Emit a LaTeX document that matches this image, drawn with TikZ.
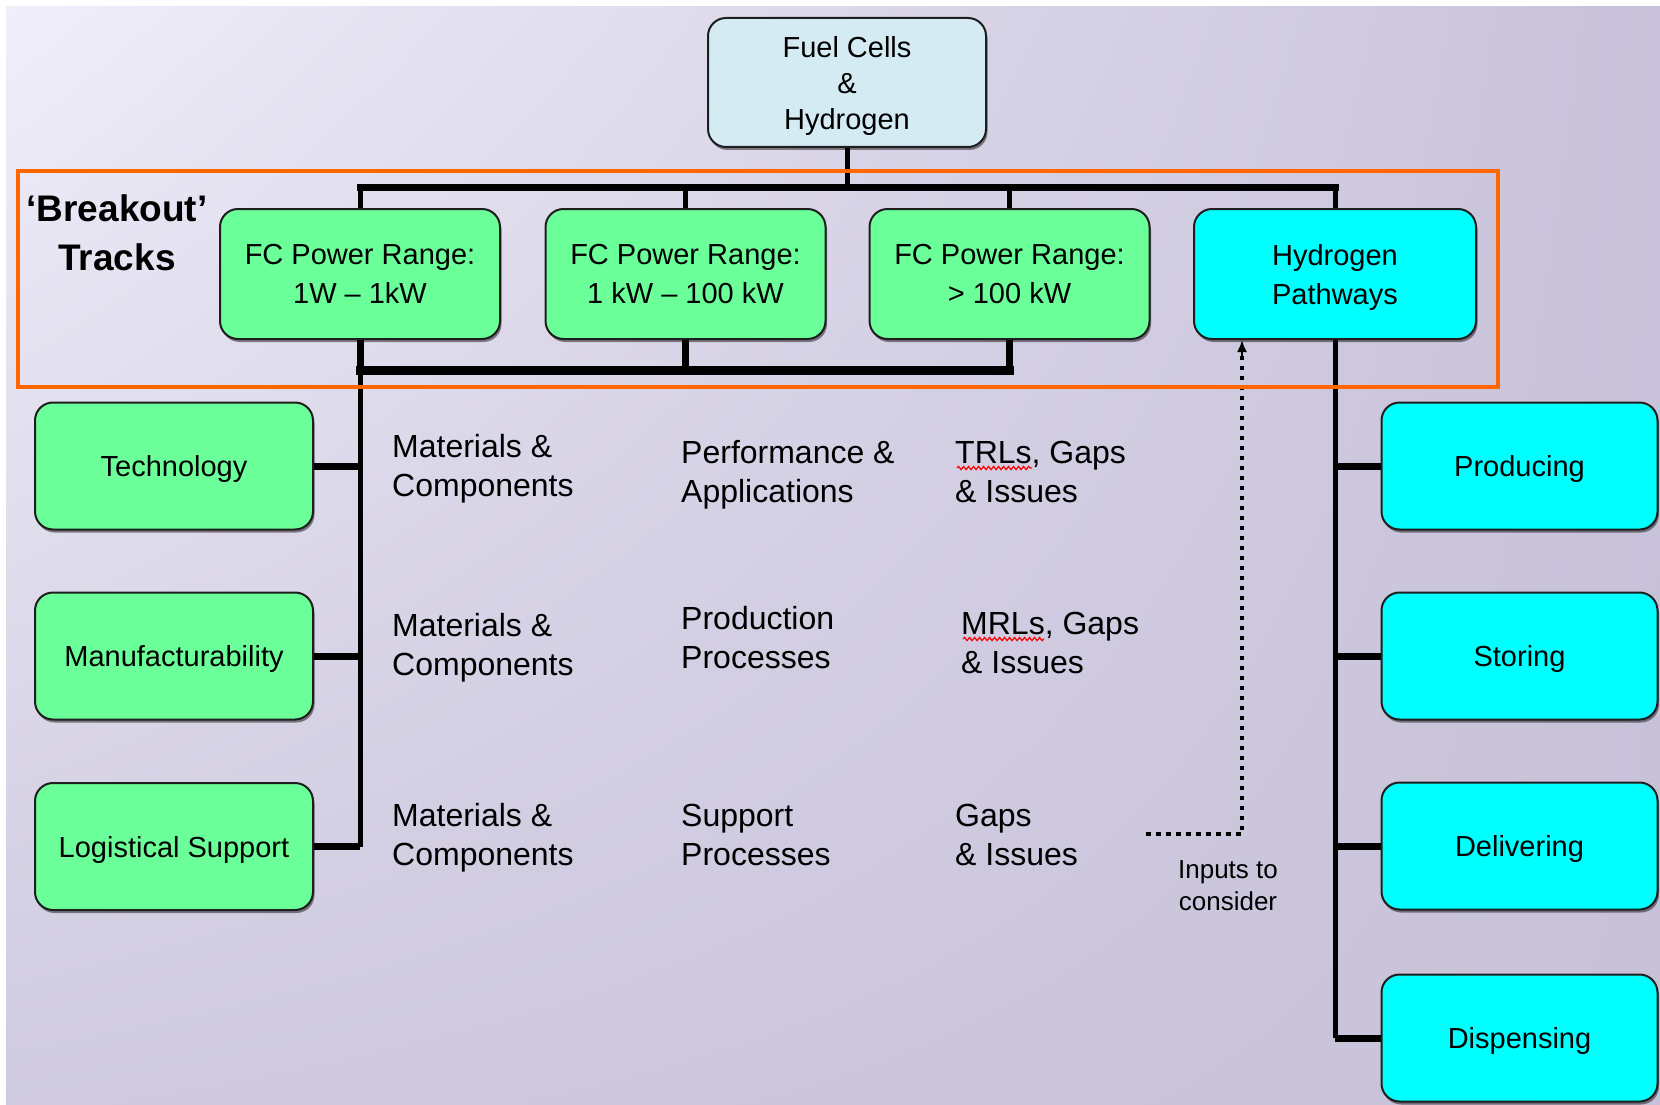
\documentclass[tikz,border=0pt]{standalone}
\usepackage{fontspec}
\setmainfont{Liberation Sans}
\usetikzlibrary{arrows.meta,shadows,shadings,decorations.pathmorphing}

\definecolor{boxgreen}{RGB}{106,255,152}
\definecolor{boxcyan}{RGB}{0,255,255}
\definecolor{topblue}{RGB}{213,235,243}
\definecolor{trackorange}{RGB}{255,102,0}
\definecolor{bgUL}{RGB}{239,238,249}
\definecolor{bgUR}{RGB}{200,194,218}
\definecolor{bgLL}{RGB}{207,202,223}
\definecolor{bgLR}{RGB}{200,194,217}
\definecolor{edge}{RGB}{30,30,30}

\pgfdeclarelayer{bg}
\pgfdeclarelayer{wires}
\pgfsetlayers{bg,wires,main}

\begin{document}
\begin{tikzpicture}[x=1pt,y=-1pt,
  box/.style={draw=edge, line width=2pt, rounded corners=18pt, inner sep=0pt,
    align=center, text depth=0pt, font=\fontsize{29}{39}\selectfont,
    drop shadow={shadow xshift=1.5pt, shadow yshift=-3pt, opacity=0.45, fill=black}},
  trackbox/.style={box, fill=boxgreen, minimum width=280pt, minimum height=130pt},
  h2box/.style={box, fill=boxcyan, minimum width=282pt, minimum height=130pt},
  sidebox/.style={box, fill=boxgreen, minimum width=278pt, minimum height=127pt},
  stagebox/.style={box, fill=boxcyan, minimum width=276pt, minimum height=127pt},
  % multi-line labels: the base anchor sits on the last line
  freetext/.style={anchor=base west, align=left, inner sep=0pt,
    font=\fontsize{32}{38.5}\selectfont},
  bus/.style={line width=7pt, line cap=rect},
  lowbus/.style={line width=9pt, line cap=rect},
  trunk/.style={line width=5pt},
  branch/.style={line width=7pt},
  inputs/.style={line width=4.5pt, dash pattern=on 4.5pt off 5.5pt},
  spell/.style={red, line width=1.2pt, decorate,
    decoration={snake, amplitude=1.6pt, segment length=5pt}}
]
\useasboundingbox (0,0) rectangle (1660,1105);

% page background
\begin{pgfonlayer}{bg}
  \fill[white] (0,0) rectangle (1660,1105);
  \shade[upper left=bgUL, upper right=bgUR, lower left=bgLL, lower right=bgLR]
    (6,7) rectangle (1660,1105);
\end{pgfonlayer}

% root
\node[box, fill=topblue, minimum width=278pt, minimum height=129pt,
      font=\fontsize{29}{36}\selectfont] (fuel) at (847,82.5)
      {Fuel Cells\\\&\\Hydrogen};

% breakout tracks frame
\draw[trackorange, line width=4.5pt] (18,171) rectangle (1498,387);
\node[anchor=base, align=center, inner sep=0pt,
      font=\fontsize{37}{49}\selectfont\bfseries] (brk) at (117,270)
      {‘Breakout’\\Tracks};

\node[trackbox] (r1) at (360,274)    {FC Power Range:\\1W – 1kW};
\node[trackbox] (r2) at (685.5,274)  {FC Power Range:\\1 kW – 100 kW};
\node[trackbox] (r3) at (1009.5,274) {FC Power Range:\\> 100 kW};
\node[h2box]    (h2) at (1335,274)   {Hydrogen\\Pathways};

% fuel cell dimensions
\node[sidebox] (tech) at (174,466) {Technology};
\node[sidebox] (manu) at (174,656) {Manufacturability};
\node[sidebox] (logi) at (174,846.5) {Logistical Support};

% hydrogen stages
\node[stagebox] (prod) at (1519.5,466)  {Producing};
\node[stagebox] (stor) at (1519.5,656)  {Storing};
\node[stagebox] (deli) at (1519.5,846)  {Delivering};
\node[stagebox] (disp) at (1519.5,1038) {Dispensing};

% topic columns
\node[freetext] (mc1) at (392,496) {Materials \&\\Components};
\node[freetext] (pa)  at (681,502) {Performance \&\\Applications};
\node[freetext] (trl) at (955,502) {TRLs, Gaps\\\& Issues};
\node[freetext] (mc2) at (392,675) {Materials \&\\Components};
\node[freetext] (pp)  at (681,668) {Production\\Processes};
\node[freetext] (mrl) at (961,673) {MRLs, Gaps\\\& Issues};
\node[freetext] (mc3) at (392,865) {Materials \&\\Components};
\node[freetext] (sp)  at (681,865) {Support\\Processes};
\node[freetext] (gi)  at (955,865) {Gaps\\\& Issues};

\node[anchor=base, align=center, inner sep=0pt,
      font=\fontsize{26}{32}\selectfont] (inp) at (1228,910)
      {Inputs to\\consider};

% spell-check marks under the first line
\draw[spell] ([shift={(2,-34)}]trl.base west) -- ++(75,0);
\draw[spell] ([shift={(2,-34)}]mrl.base west) -- ++(81,0);

% connectors
\coordinate (topbus) at (847,187);
\coordinate (lowbus) at (360,370);
\coordinate (dstart) at (1146,834);
\coordinate (dcorner) at (1242,834);

\begin{pgfonlayer}{wires}
  \draw[trunk] (fuel.south) -- (topbus);
  \draw[bus] (r1.north |- topbus) -- (h2.north |- topbus);
  \foreach \n in {r1,r2,r3,h2} \draw[trunk] (\n.north |- topbus) -- (\n.north);

  \foreach \n in {r1,r2,r3} \draw[branch] (\n.south) -- (\n.south |- lowbus);
  \draw[lowbus] (r1.south |- lowbus) -- (r3.south |- lowbus);
  \draw[trunk] (r1.south) -- (r1.south |- logi.east);
  \foreach \n in {tech,manu,logi} \draw[branch] (\n.east) -- (\n.east -| r1.south);

  \draw[trunk] (h2.south) -- (h2.south |- disp.west);
  \foreach \n in {prod,stor,deli,disp} \draw[branch] (\n.west) -- (\n.west -| h2.south);

  \draw[inputs] (dstart) -- (dcorner) -- ([yshift=-4pt]dcorner |- h2.south);
  \draw[line width=2pt, -{Latex[length=12pt,width=10pt]}]
    ([yshift=-16pt]dcorner |- h2.south) -- (dcorner |- h2.south);
\end{pgfonlayer}
\end{tikzpicture}
\end{document}
